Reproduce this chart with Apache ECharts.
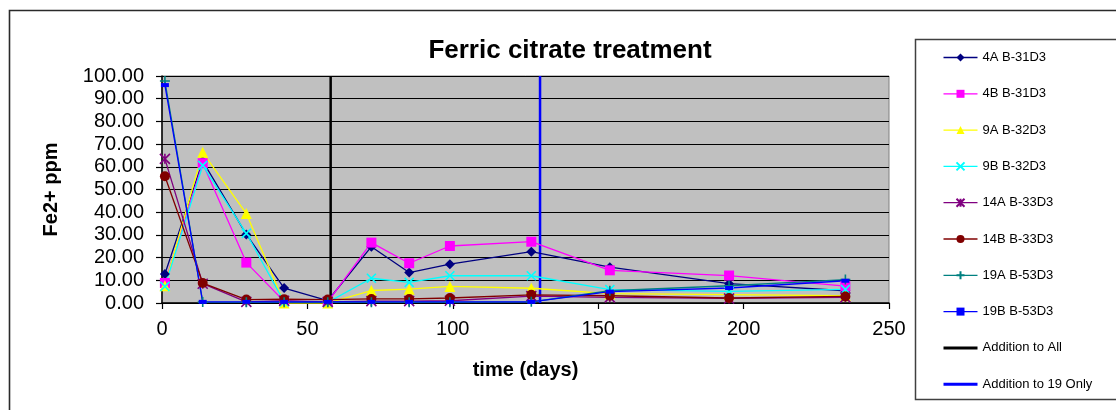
<!DOCTYPE html>
<html>
<head>
<meta charset="utf-8">
<style>
  html, body { margin: 0; padding: 0; background: #ffffff; }
  #chart { width: 1116px; height: 410px; }
</style>
<script src="https://cdn.jsdelivr.net/npm/echarts@6/dist/echarts.min.js"></script>
</head>
<body>
<div id="chart"></div>
<script>
// Sampling days and Fe2+ readings (ppm) for each column
const days = [1, 14, 29, 42, 57, 72, 85, 99, 127, 154, 195, 235];

const s4A  = [12.8, 62.5, 30.2, 6.6, 1.0, 24.8, 13.4, 17.1, 22.6, 15.8, 8.5, 5.4];
const s4B  = [8.8, 61.6, 17.8, 0.7, 0.5, 26.6, 17.5, 25.1, 27.0, 14.4, 12.1, 7.4];
const s9A  = [7.6, 66.4, 39.4, 0.0, 0.0, 5.5, 6.1, 7.3, 6.5, 4.1, 3.7, 3.2];
const s9B  = [7.3, 60.6, 30.7, 0.5, 0.3, 10.9, 9.1, 12.0, 12.0, 5.9, 5.1, 6.0];
const s14A = [63.5, 8.5, 0.5, 1.0, 0.5, 0.8, 0.8, 1.0, 3.0, 2.5, 2.0, 2.5];
const s14B = [55.8, 8.8, 1.5, 1.7, 1.5, 1.8, 1.8, 2.2, 3.6, 3.2, 2.2, 2.9];
const s19A = [97.8, 0.4, 0.3, 0.3, 0.3, 0.3, 0.3, 0.3, 0.5, 5.4, 7.6, 10.3];
const s19B = [96.0, 0.5, 0.5, 0.5, 0.5, 0.5, 0.5, 0.5, 0.5, 5.0, 6.6, 9.8];

// Days on which ferric citrate was added
const additionAllDay = 58;
const addition19Day = 130;

const seriesNames = ['4A B-31D3', '4B B-31D3', '9A B-32D3', '9B B-32D3',
  '14A B-33D3', '14B B-33D3', '19A B-53D3', '19B B-53D3'];
const markerNames = ['Addition to All', 'Addition to 19 Only'];

const yTicks = [0, 100, 10];   // min, max, step
const xTicks = [0, 250, 50];

const FONT = "'Liberation Sans', Arial, sans-serif";

const pairs = vals => days.map((d, i) => [d, vals[i]]);

const crossPath = 'path://M0,0L10,10M10,0L0,10';
const starPath = 'path://M0,0L10,10M10,0L0,10M5,0L5,10';
const plusPath = 'path://M5,0L5,10M0,5L10,5';

function lineSeries(name, vals, color, symbol, size, strokeMarker) {
  const itemStyle = strokeMarker
    ? { color: color, borderColor: color, borderWidth: 1.6 }
    : { color: color, borderColor: color, borderWidth: 0 };
  return {
    name: name,
    type: 'line',
    data: pairs(vals),
    symbol: symbol,
    symbolSize: size,
    showAllSymbol: true,
    lineStyle: { color: color, width: 1.3 },
    itemStyle: itemStyle,
    emphasis: { disabled: true },
    z: 3,
    animation: false
  };
}

// Full-height marker line; its end symbols are transparent so the legend shows a plain line
function verticalLine(name, day, color) {
  return {
    name: name,
    type: 'line',
    data: [[day, yTicks[0]], [day, yTicks[1]]],
    symbol: 'circle',
    symbolSize: 1,
    lineStyle: { color: color, width: 2.5 },
    itemStyle: { color: 'rgba(0,0,0,0)', borderWidth: 0 },
    emphasis: { disabled: true },
    z: 2,
    animation: false
  };
}

const legendItems = seriesNames.map(n => ({ name: n }))
  .concat(markerNames.map(n => ({ name: n, lineStyle: { width: 3 } })));

const chart = echarts.init(document.getElementById('chart'), null, { renderer: 'canvas' });

chart.setOption({
  backgroundColor: '#ffffff',
  animation: false,
  title: {
    text: 'Ferric citrate treatment',
    left: 570,
    top: 38,
    padding: 0,
    textAlign: 'center',
    textStyle: { fontFamily: FONT, fontSize: 26, fontWeight: 'bold', color: '#000' }
  },
  graphic: [
    {
      type: 'rect',
      shape: { x: 9.5, y: 10.5, width: 1130, height: 430 },
      style: { fill: null, stroke: '#2a2a2a', lineWidth: 1.6 },
      silent: true, z: -1
    },
    {
      type: 'rect',
      shape: { x: 915.5, y: 39.5, width: 230, height: 360 },
      style: { fill: null, stroke: '#404040', lineWidth: 1.5 },
      silent: true, z: -1
    }
  ],
  legend: {
    orient: 'vertical',
    left: 942,
    top: 51,
    padding: 0,
    itemWidth: 34,
    itemHeight: 10,
    itemGap: 23.3,
    selectedMode: false,
    lineStyle: { width: 1.3 },
    data: legendItems,
    textStyle: { fontFamily: FONT, fontSize: 13, color: '#000' }
  },
  grid: {
    left: 162,
    right: 227,
    top: 76,
    bottom: 107,
    show: true,
    backgroundColor: '#c0c0c0',
    borderColor: '#808080',
    borderWidth: 1,
    outerBoundsMode: 'none'
  },
  xAxis: {
    type: 'value',
    min: xTicks[0],
    max: xTicks[1],
    interval: xTicks[2],
    name: 'time (days)',
    nameLocation: 'middle',
    nameGap: 57,
    nameTextStyle: { fontFamily: FONT, fontSize: 20, fontWeight: 'bold', color: '#000' },
    axisLine: { show: true, onZero: false, lineStyle: { color: '#000', width: 1.5 } },
    axisTick: { show: true, inside: false, length: 6, lineStyle: { color: '#000', width: 1.2 } },
    axisLabel: { fontFamily: FONT, fontSize: 20, color: '#000', margin: 16 },
    splitLine: { show: false }
  },
  yAxis: {
    type: 'value',
    min: yTicks[0],
    max: yTicks[1],
    interval: yTicks[2],
    name: 'Fe2+ ppm',
    nameLocation: 'middle',
    nameRotate: 90,
    nameGap: 101,
    nameTextStyle: { fontFamily: FONT, fontSize: 20, fontWeight: 'bold', color: '#000' },
    axisLine: { show: true, lineStyle: { color: '#000', width: 1.5 } },
    axisTick: { show: true, inside: false, length: 6, lineStyle: { color: '#000', width: 1.2 } },
    axisLabel: {
      fontFamily: FONT, fontSize: 20, color: '#000', margin: 18,
      formatter: v => v.toFixed(2)
    },
    splitLine: { show: true, lineStyle: { color: '#000', width: 1.2 } }
  },
  series: [
    verticalLine(markerNames[0], additionAllDay, '#000000'),
    verticalLine(markerNames[1], addition19Day, '#0000ff'),
    lineSeries(seriesNames[0], s4A, '#000080', 'diamond', 10, false),
    lineSeries(seriesNames[1], s4B, '#ff00ff', 'rect', 10, false),
    lineSeries(seriesNames[2], s9A, '#ffff00', 'triangle', 11, false),
    lineSeries(seriesNames[3], s9B, '#00ffff', crossPath, 9, true),
    lineSeries(seriesNames[4], s14A, '#800080', starPath, 10, true),
    lineSeries(seriesNames[5], s14B, '#800000', 'circle', 10, false),
    lineSeries(seriesNames[6], s19A, '#008080', plusPath, 10, true),
    lineSeries(seriesNames[7], s19B, '#0000ff', 'rect', [8, 4], false)
  ]
});
</script>
</body>
</html>
